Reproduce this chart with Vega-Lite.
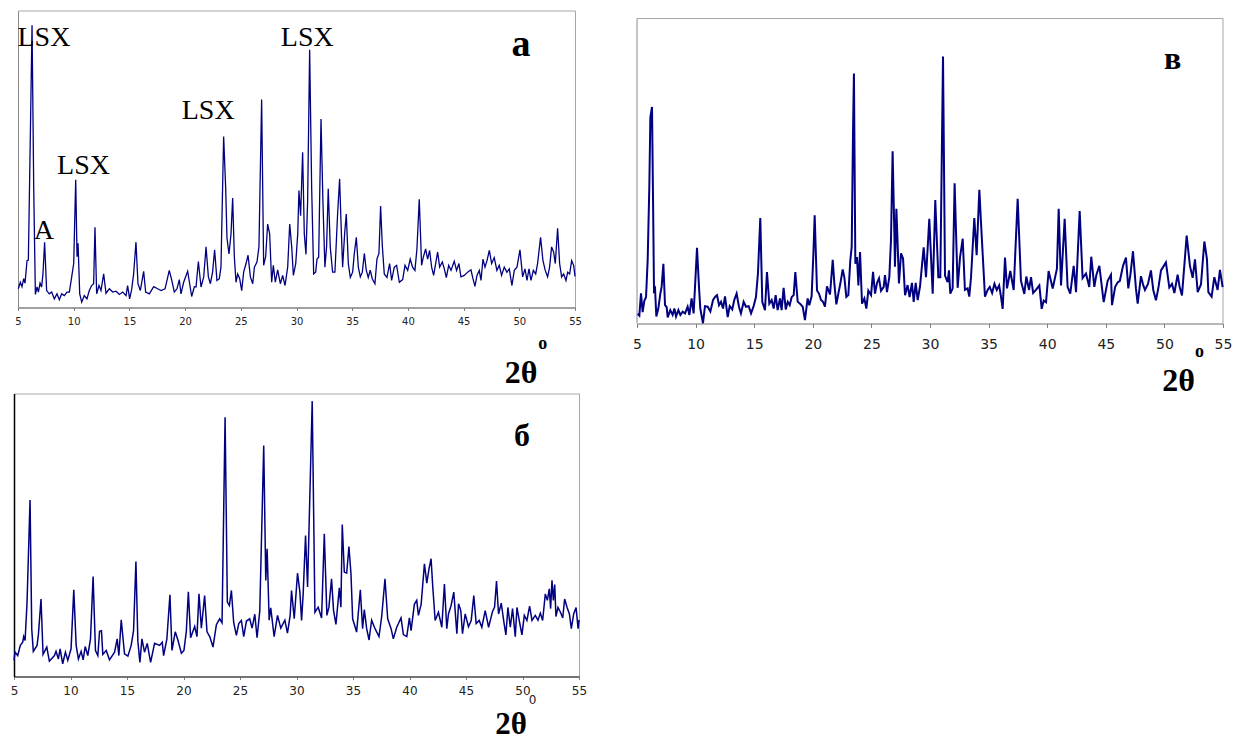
{
  "$schema": "https://vega.github.io/schema/vega-lite/v6.json",
  "padding": {"left": 9, "top": 9.5, "right": 5, "bottom": 0},
  "background": "white",
  "config": {"view": {"stroke": "#a6a6a6", "strokeWidth": 1}, "axis": {"grid": false}},
  "bounds": "flush",
  "columns": 2,
  "center": {"column": true, "row": false},
  "spacing": {"row": 70, "column": 58},
  "concat": [
    {
      "width": 557, "height": 297,
      "encoding": {
        "x": {"field": "two_theta", "type": "quantitative", "scale": {"domain": [5, 55], "nice": false, "zero": false},
          "axis": {"values": [5,10,15,20,25,30,35,40,45,50,55], "labelFont": "DejaVu Sans", "labelFontSize": 10, "labelColor": "#222222", "labelPadding": 6, "labelFlush": false, "labelOverlap": false, "tickSize": 3, "tickColor": "#808080", "domainColor": "#6e6e6e", "title": "2θ", "titleFont": "Liberation Serif", "titleFontSize": 32, "titleFontWeight": "bold", "titleColor": "#000000", "titleX": 502.5, "titleY": 74.7, "titleBaseline": "alphabetic", "titleAlign": "center"}},
        "y": {"field": "intensity", "type": "quantitative", "scale": {"domain": [0, 100], "nice": false, "zero": false},
          "axis": {"labels": false, "ticks": false, "title": null, "domainColor": "#8c8c8c"}}
      },
      "layer": [
        {
          "data": {"values": [
{"two_theta":5.03,"intensity":6.3},{"two_theta":5.21,"intensity":8.5},{"two_theta":5.36,"intensity":7},{"two_theta":5.51,"intensity":9.7},{"two_theta":5.63,"intensity":8.2},{"two_theta":5.81,"intensity":15.8},{"two_theta":5.93,"intensity":16},{"two_theta":6.11,"intensity":58.5},{"two_theta":6.26,"intensity":95},{"two_theta":6.41,"intensity":40.5},{"two_theta":6.56,"intensity":4.4},{"two_theta":6.71,"intensity":6.9},{"two_theta":6.83,"intensity":5.2},{"two_theta":6.98,"intensity":8.2},{"two_theta":7.12,"intensity":6.9},{"two_theta":7.24,"intensity":11.3},{"two_theta":7.39,"intensity":22},{"two_theta":7.57,"intensity":5.7},{"two_theta":7.81,"intensity":4.6},{"two_theta":8.02,"intensity":5.2},{"two_theta":8.26,"intensity":2.9},{"two_theta":8.5,"intensity":4.6},{"two_theta":8.71,"intensity":2.6},{"two_theta":8.92,"intensity":4.6},{"two_theta":9.16,"intensity":4},{"two_theta":9.4,"intensity":5.2},{"two_theta":9.61,"intensity":5.2},{"two_theta":9.82,"intensity":10.3},{"two_theta":10.0,"intensity":14.8},{"two_theta":10.18,"intensity":43},{"two_theta":10.3,"intensity":17.1},{"two_theta":10.39,"intensity":21.6},{"two_theta":10.54,"intensity":4.6},{"two_theta":10.72,"intensity":1.8},{"two_theta":10.95,"intensity":4},{"two_theta":11.19,"intensity":2.9},{"two_theta":11.4,"intensity":5.7},{"two_theta":11.61,"intensity":7.4},{"two_theta":11.79,"intensity":8},{"two_theta":11.91,"intensity":27},{"two_theta":12.06,"intensity":4.6},{"two_theta":12.27,"intensity":7.4},{"two_theta":12.45,"intensity":5.7},{"two_theta":12.69,"intensity":11.3},{"two_theta":12.9,"intensity":4.8},{"two_theta":13.2,"intensity":6.3},{"two_theta":13.5,"intensity":5.2},{"two_theta":13.8,"intensity":5.5},{"two_theta":14.1,"intensity":4.4},{"two_theta":14.4,"intensity":5.2},{"two_theta":14.7,"intensity":4},{"two_theta":14.84,"intensity":7.4},{"two_theta":15.02,"intensity":2.9},{"two_theta":15.2,"intensity":6},{"two_theta":15.38,"intensity":11.3},{"two_theta":15.59,"intensity":22},{"two_theta":15.77,"intensity":8},{"two_theta":15.98,"intensity":5.7},{"two_theta":16.28,"intensity":12.2},{"two_theta":16.46,"intensity":5.2},{"two_theta":16.79,"intensity":4.6},{"two_theta":17.18,"intensity":7},{"two_theta":17.54,"intensity":6.3},{"two_theta":17.84,"intensity":5.7},{"two_theta":18.2,"intensity":6.3},{"two_theta":18.58,"intensity":12.5},{"two_theta":18.79,"intensity":9.4},{"two_theta":19.03,"intensity":5.2},{"two_theta":19.27,"intensity":6.3},{"two_theta":19.48,"intensity":9.4},{"two_theta":19.63,"intensity":4.6},{"two_theta":19.87,"intensity":8.5},{"two_theta":20.23,"intensity":12.2},{"two_theta":20.41,"intensity":8},{"two_theta":20.59,"intensity":3.7},{"two_theta":20.83,"intensity":7},{"two_theta":20.98,"intensity":6.9},{"two_theta":21.19,"intensity":15.5},{"two_theta":21.43,"intensity":6.9},{"two_theta":21.67,"intensity":10.3},{"two_theta":21.88,"intensity":20.4},{"two_theta":22.09,"intensity":10.3},{"two_theta":22.27,"intensity":8},{"two_theta":22.47,"intensity":12},{"two_theta":22.65,"intensity":19.4},{"two_theta":22.86,"intensity":9.1},{"two_theta":23.07,"intensity":9.7},{"two_theta":23.22,"intensity":13.6},{"two_theta":23.46,"intensity":57.6},{"two_theta":23.64,"intensity":40.5},{"two_theta":23.76,"intensity":23.4},{"two_theta":23.94,"intensity":18},{"two_theta":24.12,"intensity":24.8},{"two_theta":24.27,"intensity":36.9},{"two_theta":24.42,"intensity":17.1},{"two_theta":24.57,"intensity":8.5},{"two_theta":24.72,"intensity":11.3},{"two_theta":24.9,"intensity":9.7},{"two_theta":25.08,"intensity":5.7},{"two_theta":25.26,"intensity":12},{"two_theta":25.47,"intensity":14.8},{"two_theta":25.65,"intensity":17.6},{"two_theta":25.86,"intensity":10.3},{"two_theta":26.07,"intensity":8},{"two_theta":26.22,"intensity":13.6},{"two_theta":26.45,"intensity":15.3},{"two_theta":26.63,"intensity":20.4},{"two_theta":26.87,"intensity":70},{"two_theta":27.05,"intensity":14.2},{"two_theta":27.23,"intensity":17.1},{"two_theta":27.41,"intensity":28.1},{"two_theta":27.59,"intensity":24.8},{"two_theta":27.77,"intensity":8.5},{"two_theta":27.92,"intensity":14.2},{"two_theta":28.1,"intensity":8.5},{"two_theta":28.31,"intensity":12.7},{"two_theta":28.55,"intensity":8},{"two_theta":28.76,"intensity":10.8},{"two_theta":28.97,"intensity":7.4},{"two_theta":29.21,"intensity":13.6},{"two_theta":29.39,"intensity":28.1},{"two_theta":29.57,"intensity":20.4},{"two_theta":29.72,"intensity":10.8},{"two_theta":29.93,"intensity":14.8},{"two_theta":30.11,"intensity":24.8},{"two_theta":30.22,"intensity":39.4},{"two_theta":30.37,"intensity":30.9},{"two_theta":30.55,"intensity":52.3},{"two_theta":30.7,"intensity":24.8},{"two_theta":30.85,"intensity":17.9},{"two_theta":31.0,"intensity":35.9},{"two_theta":31.18,"intensity":86.8},{"two_theta":31.36,"intensity":40.5},{"two_theta":31.54,"intensity":11.3},{"two_theta":31.72,"intensity":11.9},{"two_theta":31.84,"intensity":16.3},{"two_theta":31.99,"intensity":16.9},{"two_theta":32.2,"intensity":63.5},{"two_theta":32.37,"intensity":35.9},{"two_theta":32.55,"intensity":13.6},{"two_theta":32.7,"intensity":20.4},{"two_theta":32.85,"intensity":40},{"two_theta":33.03,"intensity":20.4},{"two_theta":33.24,"intensity":11.9},{"two_theta":33.45,"intensity":11.9},{"two_theta":33.69,"intensity":31.5},{"two_theta":33.87,"intensity":43.3},{"two_theta":33.99,"intensity":29.3},{"two_theta":34.14,"intensity":13.6},{"two_theta":34.32,"intensity":24.8},{"two_theta":34.47,"intensity":31.5},{"two_theta":34.65,"intensity":14.8},{"two_theta":34.83,"intensity":10.1},{"two_theta":35.04,"intensity":11.9},{"two_theta":35.19,"intensity":18.2},{"two_theta":35.37,"intensity":23.6},{"two_theta":35.55,"intensity":13.6},{"two_theta":35.73,"intensity":10.3},{"two_theta":35.91,"intensity":11.9},{"two_theta":36.09,"intensity":18.2},{"two_theta":36.26,"intensity":12.6},{"two_theta":36.44,"intensity":10.1},{"two_theta":36.62,"intensity":12.6},{"two_theta":36.8,"intensity":9.7},{"two_theta":37.04,"intensity":8},{"two_theta":37.22,"intensity":16.3},{"two_theta":37.4,"intensity":18.2},{"two_theta":37.55,"intensity":34.2},{"two_theta":37.7,"intensity":21},{"two_theta":37.88,"intensity":11.3},{"two_theta":38.12,"intensity":10.1},{"two_theta":38.36,"intensity":14.8},{"two_theta":38.54,"intensity":9.1},{"two_theta":38.78,"intensity":13.6},{"two_theta":38.99,"intensity":14.2},{"two_theta":39.23,"intensity":8.5},{"two_theta":39.53,"intensity":9.4},{"two_theta":39.74,"intensity":14.2},{"two_theta":39.98,"intensity":12.5},{"two_theta":40.21,"intensity":16.3},{"two_theta":40.42,"intensity":13.6},{"two_theta":40.63,"intensity":12.5},{"two_theta":40.81,"intensity":19.7},{"two_theta":41.02,"intensity":36.4},{"two_theta":41.23,"intensity":14.2},{"two_theta":41.38,"intensity":16.9},{"two_theta":41.59,"intensity":19.7},{"two_theta":41.77,"intensity":16.3},{"two_theta":41.95,"intensity":19.2},{"two_theta":42.13,"intensity":13.6},{"two_theta":42.31,"intensity":10.8},{"two_theta":42.49,"intensity":14.8},{"two_theta":42.67,"intensity":18.7},{"two_theta":42.85,"intensity":13.6},{"two_theta":43.09,"intensity":15.3},{"two_theta":43.27,"intensity":13},{"two_theta":43.45,"intensity":10.1},{"two_theta":43.66,"intensity":14.2},{"two_theta":43.87,"intensity":12.5},{"two_theta":44.16,"intensity":15.6},{"two_theta":44.37,"intensity":12.5},{"two_theta":44.58,"intensity":14.8},{"two_theta":44.76,"intensity":10.3},{"two_theta":45.06,"intensity":10.8},{"two_theta":45.36,"intensity":11.9},{"two_theta":45.66,"intensity":12.7},{"two_theta":45.84,"intensity":9.7},{"two_theta":46.02,"intensity":7.1},{"two_theta":46.2,"intensity":10.8},{"two_theta":46.41,"intensity":12.5},{"two_theta":46.56,"intensity":9.1},{"two_theta":46.74,"intensity":16.3},{"two_theta":46.92,"intensity":13.6},{"two_theta":47.1,"intensity":15.8},{"two_theta":47.31,"intensity":19.2},{"two_theta":47.52,"intensity":14.8},{"two_theta":47.75,"intensity":16.8},{"two_theta":47.99,"intensity":12.5},{"two_theta":48.2,"intensity":14.2},{"two_theta":48.41,"intensity":10.8},{"two_theta":48.65,"intensity":13.6},{"two_theta":48.89,"intensity":11.9},{"two_theta":49.1,"intensity":13},{"two_theta":49.34,"intensity":7.4},{"two_theta":49.55,"intensity":12.5},{"two_theta":49.79,"intensity":13.6},{"two_theta":50.06,"intensity":19.4},{"two_theta":50.3,"intensity":10.3},{"two_theta":50.51,"intensity":13},{"two_theta":50.69,"intensity":9.1},{"two_theta":50.87,"intensity":13},{"two_theta":51.05,"intensity":9.1},{"two_theta":51.26,"intensity":12.5},{"two_theta":51.47,"intensity":11.3},{"two_theta":51.64,"intensity":14.8},{"two_theta":51.91,"intensity":23.6},{"two_theta":52.12,"intensity":15.9},{"two_theta":52.33,"intensity":12.5},{"two_theta":52.54,"intensity":10.3},{"two_theta":52.72,"intensity":13.6},{"two_theta":52.9,"intensity":20.4},{"two_theta":53.08,"intensity":18.7},{"two_theta":53.23,"intensity":14.8},{"two_theta":53.44,"intensity":26.7},{"two_theta":53.62,"intensity":14.8},{"two_theta":53.8,"intensity":10.3},{"two_theta":53.98,"intensity":11.3},{"two_theta":54.19,"intensity":9.1},{"two_theta":54.34,"intensity":11.9},{"two_theta":54.52,"intensity":11.3},{"two_theta":54.7,"intensity":15.8},{"two_theta":54.88,"intensity":14.2},{"two_theta":55.0,"intensity":10.5}
          ]},
          "mark": {"type": "line", "color": "#000080", "strokeWidth": 1.3}
        },
        {
          "data": {"values": [
            {"two_theta": 7.33, "intensity": 88.2, "label": "LSX"},
            {"two_theta": 10.88, "intensity": 45.0, "label": "LSX"},
            {"two_theta": 22.07, "intensity": 63.5, "label": "LSX"},
            {"two_theta": 30.97, "intensity": 88.2, "label": "LSX"},
            {"two_theta": 7.33, "intensity": 23.1, "label": "A"}
          ]},
          "mark": {"type": "text", "font": "Liberation Serif", "fontSize": 28, "baseline": "alphabetic", "align": "center", "color": "#000000"},
          "encoding": {"text": {"field": "label"}}
        },
        {
          "data": {"values": [{"two_theta": 50.15, "intensity": 84.8, "label": "a"}]},
          "mark": {"type": "text", "font": "Liberation Serif", "fontSize": 38, "fontWeight": "bold", "baseline": "alphabetic", "align": "center", "color": "#000000"},
          "encoding": {"text": {"field": "label"}}
        },
        {
          "data": {"values": [{"two_theta": 52.1, "intensity": -13.9, "label": "o"}]},
          "mark": {"type": "text", "font": "Liberation Serif", "fontSize": 18, "fontWeight": "bold", "baseline": "alphabetic", "align": "center", "color": "#000000"},
          "encoding": {"text": {"field": "label"}}
        }
      ]
    },
    {
      "width": 586, "height": 313,
      "view": {"stroke": null},
      "encoding": {
        "x": {"field": "two_theta", "type": "quantitative", "scale": {"domain": [5, 55], "nice": false, "zero": false},
          "axis": {"values": [5,10,15,20,25,30,35,40,45,50,55], "labelFont": "DejaVu Sans", "labelFontSize": 14, "labelColor": "#222222", "labelPadding": 10, "labelFlush": false, "labelOverlap": false, "tickSize": 4, "tickColor": "#808080", "domainColor": "#6e6e6e", "title": "2θ", "titleFont": "Liberation Serif", "titleFontSize": 32, "titleFontWeight": "bold", "titleColor": "#000000", "titleX": 541, "titleY": 67, "titleBaseline": "alphabetic", "titleAlign": "center"}},
        "y": {"field": "intensity", "type": "quantitative", "scale": {"domain": [0, 102.623], "nice": false, "zero": false}, "axis": null}
      },
      "layer": [
        {
          "data": {"values": [
            {"two_theta": 5, "two_theta_end": 55, "intensity": 100, "intensity_end": 100},
            {"two_theta": 55, "two_theta_end": 55, "intensity": 0, "intensity_end": 100}
          ]},
          "mark": {"type": "rule", "color": "#a6a6a6", "strokeWidth": 1},
          "encoding": {"x2": {"field": "two_theta_end"}, "y2": {"field": "intensity_end"}}
        },
        {
          "data": {"values": [
            {"two_theta": 5, "two_theta_end": 5, "intensity": 0, "intensity_end": 100}
          ]},
          "mark": {"type": "rule", "color": "#8c8c8c", "strokeWidth": 1},
          "encoding": {"x2": {"field": "two_theta_end"}, "y2": {"field": "intensity_end"}}
        },
        {
          "data": {"values": [
{"two_theta":5.06,"intensity":3.2},{"two_theta":5.2,"intensity":2.6},{"two_theta":5.34,"intensity":9.9},{"two_theta":5.48,"intensity":3.7},{"two_theta":5.63,"intensity":7.5},{"two_theta":5.77,"intensity":8.6},{"two_theta":5.91,"intensity":20.7},{"two_theta":6.05,"intensity":44.7},{"two_theta":6.14,"intensity":67.6},{"two_theta":6.28,"intensity":71},{"two_theta":6.37,"intensity":40.3},{"two_theta":6.45,"intensity":10.8},{"two_theta":6.54,"intensity":11.4},{"two_theta":6.65,"intensity":2.3},{"two_theta":6.82,"intensity":4.9},{"two_theta":6.99,"intensity":9.8},{"two_theta":7.1,"intensity":12},{"two_theta":7.25,"intensity":19.6},{"two_theta":7.39,"intensity":6},{"two_theta":7.53,"intensity":5.4},{"two_theta":7.62,"intensity":2},{"two_theta":7.84,"intensity":4.4},{"two_theta":8.04,"intensity":2.8},{"two_theta":8.19,"intensity":4.9},{"two_theta":8.33,"intensity":2.3},{"two_theta":8.53,"intensity":4.4},{"two_theta":8.7,"intensity":2.8},{"two_theta":8.9,"intensity":3.9},{"two_theta":9.1,"intensity":3.3},{"two_theta":9.32,"intensity":5.5},{"two_theta":9.47,"intensity":2.8},{"two_theta":9.66,"intensity":8.2},{"two_theta":9.83,"intensity":3.3},{"two_theta":9.95,"intensity":12},{"two_theta":10.12,"intensity":24.8},{"two_theta":10.29,"intensity":12},{"two_theta":10.4,"intensity":4.9},{"two_theta":10.63,"intensity":0.1},{"two_theta":10.8,"intensity":5.7},{"two_theta":11.03,"intensity":5.5},{"two_theta":11.26,"intensity":3.9},{"two_theta":11.49,"intensity":7.7},{"two_theta":11.66,"intensity":8.7},{"two_theta":11.83,"intensity":9.3},{"two_theta":12.0,"intensity":6},{"two_theta":12.17,"intensity":7.1},{"two_theta":12.34,"intensity":4.9},{"two_theta":12.51,"intensity":8.9},{"two_theta":12.74,"intensity":2.1},{"two_theta":12.91,"intensity":5.7},{"two_theta":13.13,"intensity":4.6},{"two_theta":13.3,"intensity":7.7},{"two_theta":13.5,"intensity":9.8},{"two_theta":13.7,"intensity":5.5},{"two_theta":13.87,"intensity":3.3},{"two_theta":14.1,"intensity":7.1},{"two_theta":14.3,"intensity":5.5},{"two_theta":14.53,"intensity":5.7},{"two_theta":14.73,"intensity":3.3},{"two_theta":14.95,"intensity":5.7},{"two_theta":15.15,"intensity":8.7},{"two_theta":15.32,"intensity":16.4},{"two_theta":15.52,"intensity":34.6},{"two_theta":15.69,"intensity":7.1},{"two_theta":15.92,"intensity":4.4},{"two_theta":16.09,"intensity":16.9},{"two_theta":16.29,"intensity":6.5},{"two_theta":16.49,"intensity":7.7},{"two_theta":16.66,"intensity":4.9},{"two_theta":16.83,"intensity":9.3},{"two_theta":17.0,"intensity":4.4},{"two_theta":17.2,"intensity":8.2},{"two_theta":17.34,"intensity":4.4},{"two_theta":17.51,"intensity":11.7},{"two_theta":17.69,"intensity":4.6},{"two_theta":17.86,"intensity":7.1},{"two_theta":18.03,"intensity":6},{"two_theta":18.2,"intensity":8.7},{"two_theta":18.37,"intensity":9.3},{"two_theta":18.51,"intensity":16.9},{"two_theta":18.71,"intensity":7.1},{"two_theta":18.91,"intensity":6.5},{"two_theta":19.14,"intensity":5.5},{"two_theta":19.33,"intensity":1.1},{"two_theta":19.56,"intensity":8.2},{"two_theta":19.7,"intensity":6},{"two_theta":19.9,"intensity":8.9},{"two_theta":20.05,"intensity":22.9},{"two_theta":20.16,"intensity":35.5},{"two_theta":20.36,"intensity":10.8},{"two_theta":20.53,"intensity":9.8},{"two_theta":20.7,"intensity":7.7},{"two_theta":20.87,"intensity":7.1},{"two_theta":21.04,"intensity":5.5},{"two_theta":21.21,"intensity":12.2},{"two_theta":21.47,"intensity":9.5},{"two_theta":21.7,"intensity":20.9},{"two_theta":21.84,"intensity":13.1},{"two_theta":22.01,"intensity":6.3},{"two_theta":22.18,"intensity":9.8},{"two_theta":22.35,"intensity":13.1},{"two_theta":22.55,"intensity":17.7},{"two_theta":22.69,"intensity":15.2},{"two_theta":22.86,"intensity":8.7},{"two_theta":23.03,"intensity":9.3},{"two_theta":23.2,"intensity":20.7},{"two_theta":23.32,"intensity":25.1},{"two_theta":23.43,"intensity":62.3},{"two_theta":23.51,"intensity":82},{"two_theta":23.63,"intensity":19.6},{"two_theta":23.77,"intensity":21.8},{"two_theta":23.89,"intensity":12.5},{"two_theta":24.03,"intensity":23.4},{"two_theta":24.2,"intensity":6.5},{"two_theta":24.4,"intensity":8.2},{"two_theta":24.57,"intensity":4.9},{"two_theta":24.74,"intensity":10.8},{"two_theta":24.97,"intensity":9.3},{"two_theta":25.14,"intensity":16.9},{"two_theta":25.31,"intensity":9.8},{"two_theta":25.48,"intensity":13.3},{"two_theta":25.65,"intensity":14.8},{"two_theta":25.82,"intensity":10.7},{"two_theta":26.05,"intensity":12},{"two_theta":26.16,"intensity":15.9},{"two_theta":26.33,"intensity":10.3},{"two_theta":26.53,"intensity":15.3},{"two_theta":26.67,"intensity":27.3},{"two_theta":26.81,"intensity":56.5},{"two_theta":26.96,"intensity":29.4},{"two_theta":27.01,"intensity":18.6},{"two_theta":27.13,"intensity":37.6},{"two_theta":27.21,"intensity":29.4},{"two_theta":27.35,"intensity":13.1},{"two_theta":27.53,"intensity":23},{"two_theta":27.7,"intensity":21.3},{"two_theta":27.87,"intensity":9.3},{"two_theta":28.09,"intensity":12.6},{"two_theta":28.26,"intensity":8.7},{"two_theta":28.46,"intensity":13.3},{"two_theta":28.61,"intensity":7.1},{"two_theta":28.78,"intensity":13.3},{"two_theta":28.95,"intensity":7.7},{"two_theta":29.15,"intensity":12.2},{"two_theta":29.46,"intensity":25},{"two_theta":29.66,"intensity":15.2},{"two_theta":29.94,"intensity":34.3},{"two_theta":30.23,"intensity":9.8},{"two_theta":30.45,"intensity":40.5},{"two_theta":30.71,"intensity":15.2},{"two_theta":30.88,"intensity":15.2},{"two_theta":31.11,"intensity":87.5},{"two_theta":31.28,"intensity":15.7},{"two_theta":31.5,"intensity":13.6},{"two_theta":31.62,"intensity":17.4},{"two_theta":31.73,"intensity":9.8},{"two_theta":31.93,"intensity":11.5},{"two_theta":32.1,"intensity":46},{"two_theta":32.36,"intensity":11.7},{"two_theta":32.56,"intensity":21.6},{"two_theta":32.79,"intensity":27.8},{"two_theta":32.98,"intensity":11},{"two_theta":33.21,"intensity":11.5},{"two_theta":33.35,"intensity":8.8},{"two_theta":33.5,"intensity":15.2},{"two_theta":33.78,"intensity":34.6},{"two_theta":33.98,"intensity":22.4},{"two_theta":34.21,"intensity":43.8},{"two_theta":34.35,"intensity":33.2},{"two_theta":34.69,"intensity":8.8},{"two_theta":34.92,"intensity":11},{"two_theta":35.1,"intensity":12},{"two_theta":35.3,"intensity":10},{"two_theta":35.5,"intensity":13},{"two_theta":35.7,"intensity":11},{"two_theta":35.9,"intensity":12.5},{"two_theta":36.05,"intensity":9},{"two_theta":36.2,"intensity":4.8},{"two_theta":36.4,"intensity":21.6},{"two_theta":36.57,"intensity":11.5},{"two_theta":36.85,"intensity":17.2},{"two_theta":37.14,"intensity":11},{"two_theta":37.48,"intensity":40.9},{"two_theta":37.76,"intensity":14},{"two_theta":38.05,"intensity":9.7},{"two_theta":38.22,"intensity":15.4},{"two_theta":38.45,"intensity":11},{"two_theta":38.62,"intensity":15.2},{"two_theta":38.8,"intensity":10},{"two_theta":39.04,"intensity":11},{"two_theta":39.33,"intensity":12.5},{"two_theta":39.53,"intensity":4.8},{"two_theta":39.7,"intensity":7.5},{"two_theta":39.9,"intensity":7},{"two_theta":40.12,"intensity":17.2},{"two_theta":40.47,"intensity":11.5},{"two_theta":40.83,"intensity":18},{"two_theta":40.98,"intensity":37.6},{"two_theta":41.18,"intensity":12.5},{"two_theta":41.49,"intensity":34.3},{"two_theta":41.74,"intensity":12},{"two_theta":41.97,"intensity":9.8},{"two_theta":42.26,"intensity":18.9},{"two_theta":42.46,"intensity":10.3},{"two_theta":42.77,"intensity":36.9},{"two_theta":43.02,"intensity":14.9},{"two_theta":43.31,"intensity":16.4},{"two_theta":43.59,"intensity":12},{"two_theta":43.76,"intensity":21.9},{"two_theta":44.02,"intensity":12},{"two_theta":44.2,"intensity":16},{"two_theta":44.45,"intensity":18.9},{"two_theta":44.82,"intensity":7},{"two_theta":45.16,"intensity":14},{"two_theta":45.44,"intensity":16},{"two_theta":45.53,"intensity":6},{"two_theta":45.8,"intensity":12},{"two_theta":46.01,"intensity":13.5},{"two_theta":46.2,"intensity":14},{"two_theta":46.47,"intensity":18.9},{"two_theta":46.72,"intensity":21.6},{"two_theta":46.92,"intensity":11.5},{"two_theta":47.1,"intensity":16},{"two_theta":47.32,"intensity":23.7},{"two_theta":47.57,"intensity":11.5},{"two_theta":47.72,"intensity":6.5},{"two_theta":48.0,"intensity":15.5},{"two_theta":48.2,"intensity":12.5},{"two_theta":48.34,"intensity":11},{"two_theta":48.6,"intensity":13},{"two_theta":48.85,"intensity":17.4},{"two_theta":49.05,"intensity":11},{"two_theta":49.28,"intensity":7.6},{"two_theta":49.5,"intensity":12},{"two_theta":49.71,"intensity":17.4},{"two_theta":50.13,"intensity":20},{"two_theta":50.42,"intensity":11.8},{"two_theta":50.65,"intensity":13},{"two_theta":50.85,"intensity":10},{"two_theta":51.13,"intensity":16},{"two_theta":51.3,"intensity":12},{"two_theta":51.5,"intensity":9.2},{"two_theta":51.9,"intensity":28.8},{"two_theta":52.18,"intensity":18.9},{"two_theta":52.41,"intensity":15},{"two_theta":52.61,"intensity":21},{"two_theta":52.84,"intensity":10.3},{"two_theta":53.12,"intensity":12.8},{"two_theta":53.41,"intensity":26.9},{"two_theta":53.63,"intensity":21.1},{"two_theta":53.75,"intensity":10.3},{"two_theta":54.03,"intensity":8.8},{"two_theta":54.26,"intensity":15.2},{"two_theta":54.54,"intensity":11},{"two_theta":54.74,"intensity":17.6},{"two_theta":54.97,"intensity":11.9}
          ]},
          "mark": {"type": "line", "color": "#000080", "strokeWidth": 2}
        },
        {
          "data": {"values": [{"two_theta": 50.71, "intensity": 83.5, "label": "в"}]},
          "mark": {"type": "text", "font": "Liberation Serif", "fontSize": 32, "fontWeight": "bold", "baseline": "alphabetic", "align": "center", "color": "#000000"},
          "encoding": {"text": {"field": "label"}}
        },
        {
          "data": {"values": [{"two_theta": 53.0, "intensity": -11.0, "label": "o"}]},
          "mark": {"type": "text", "font": "Liberation Serif", "fontSize": 18, "fontWeight": "bold", "baseline": "alphabetic", "align": "center", "color": "#000000"},
          "encoding": {"text": {"field": "label"}}
        }
      ]
    },
    {
      "width": 565, "height": 283,
      "encoding": {
        "x": {"field": "two_theta", "type": "quantitative", "scale": {"domain": [5, 55], "nice": false, "zero": false},
          "axis": {"values": [5,10,15,20,25,30,35,40,45,50,55], "labelFont": "DejaVu Sans", "labelFontSize": 12, "labelColor": "#222222", "labelPadding": 6, "labelFlush": false, "labelOverlap": false, "tickSize": 3, "tickColor": "#808080", "domainColor": "#555555", "domainWidth": 1.5, "title": "2θ", "titleFont": "Liberation Serif", "titleFontSize": 31, "titleFontWeight": "bold", "titleColor": "#000000", "titleX": 496.5, "titleY": 57, "titleBaseline": "alphabetic", "titleAlign": "center"}},
        "y": {"field": "intensity", "type": "quantitative", "scale": {"domain": [0, 100], "nice": false, "zero": false},
          "axis": {"labels": false, "ticks": false, "title": null, "domainColor": "#000000", "domainWidth": 1.5}}
      },
      "layer": [
        {
          "data": {"values": [
{"two_theta":5.0,"intensity":5.7},{"two_theta":5.09,"intensity":8.6},{"two_theta":5.33,"intensity":7.4},{"two_theta":5.56,"intensity":11},{"two_theta":5.77,"intensity":12.1},{"two_theta":5.86,"intensity":14.1},{"two_theta":5.98,"intensity":12.7},{"two_theta":6.15,"intensity":25.7},{"two_theta":6.42,"intensity":62.4},{"two_theta":6.57,"intensity":16.8},{"two_theta":6.71,"intensity":8.9},{"two_theta":7.04,"intensity":11},{"two_theta":7.16,"intensity":14.8},{"two_theta":7.39,"intensity":27.4},{"two_theta":7.57,"intensity":7.8},{"two_theta":7.9,"intensity":10.4},{"two_theta":8.13,"intensity":5.4},{"two_theta":8.58,"intensity":7.4},{"two_theta":8.72,"intensity":8.9},{"two_theta":8.93,"intensity":6.2},{"two_theta":9.08,"intensity":9.8},{"two_theta":9.31,"intensity":4.5},{"two_theta":9.55,"intensity":8.6},{"two_theta":9.76,"intensity":5.7},{"two_theta":10.05,"intensity":9.8},{"two_theta":10.29,"intensity":30.6},{"two_theta":10.5,"intensity":11},{"two_theta":10.7,"intensity":6.2},{"two_theta":10.94,"intensity":8.9},{"two_theta":11.12,"intensity":5.9},{"two_theta":11.3,"intensity":10.6},{"two_theta":11.53,"intensity":7.4},{"two_theta":11.77,"intensity":13.3},{"two_theta":12.0,"intensity":35.3},{"two_theta":12.21,"intensity":9.2},{"two_theta":12.42,"intensity":7.4},{"two_theta":12.57,"intensity":16},{"two_theta":12.74,"intensity":16.2},{"two_theta":12.86,"intensity":7.8},{"two_theta":13.16,"intensity":9.2},{"two_theta":13.45,"intensity":5.9},{"two_theta":13.9,"intensity":8.6},{"two_theta":14.13,"intensity":13.3},{"two_theta":14.28,"intensity":7.4},{"two_theta":14.49,"intensity":20},{"two_theta":14.78,"intensity":8},{"two_theta":15.08,"intensity":7.2},{"two_theta":15.37,"intensity":11},{"two_theta":15.58,"intensity":16.2},{"two_theta":15.79,"intensity":40.6},{"two_theta":15.96,"intensity":12.5},{"two_theta":16.14,"intensity":5},{"two_theta":16.32,"intensity":13.3},{"two_theta":16.55,"intensity":8.6},{"two_theta":16.79,"intensity":11.7},{"two_theta":17.09,"intensity":5},{"two_theta":17.44,"intensity":11.7},{"two_theta":17.88,"intensity":11},{"two_theta":18.12,"intensity":12.1},{"two_theta":18.24,"intensity":7.4},{"two_theta":18.53,"intensity":13.3},{"two_theta":18.8,"intensity":28.9},{"two_theta":18.98,"intensity":9.2},{"two_theta":19.27,"intensity":15.8},{"two_theta":19.51,"intensity":12.8},{"two_theta":19.81,"intensity":8.2},{"two_theta":20.04,"intensity":9.2},{"two_theta":20.25,"intensity":16},{"two_theta":20.43,"intensity":29.9},{"two_theta":20.63,"intensity":13.7},{"two_theta":20.99,"intensity":17.7},{"two_theta":21.19,"intensity":14.1},{"two_theta":21.37,"intensity":29.2},{"two_theta":21.58,"intensity":17.1},{"two_theta":21.87,"intensity":28.6},{"two_theta":22.08,"intensity":15.8},{"two_theta":22.32,"intensity":14.1},{"two_theta":22.61,"intensity":10.4},{"two_theta":22.91,"intensity":18.3},{"two_theta":23.2,"intensity":20.4},{"two_theta":23.41,"intensity":19},{"two_theta":23.68,"intensity":91.6},{"two_theta":23.88,"intensity":26.3},{"two_theta":24.06,"intensity":25.1},{"two_theta":24.24,"intensity":30.4},{"two_theta":24.44,"intensity":19.1},{"two_theta":24.68,"intensity":14.5},{"two_theta":24.89,"intensity":18.7},{"two_theta":25.12,"intensity":19.8},{"two_theta":25.33,"intensity":14.1},{"two_theta":25.57,"intensity":19.6},{"two_theta":25.86,"intensity":20.4},{"two_theta":26.07,"intensity":17.1},{"two_theta":26.31,"intensity":22},{"two_theta":26.51,"intensity":13.7},{"two_theta":26.75,"intensity":23.2},{"two_theta":27.1,"intensity":81.6},{"two_theta":27.28,"intensity":33.9},{"two_theta":27.4,"intensity":45.1},{"two_theta":27.58,"intensity":19.9},{"two_theta":27.72,"intensity":24.3},{"two_theta":28.02,"intensity":14.1},{"two_theta":28.32,"intensity":21.6},{"two_theta":28.61,"intensity":17.1},{"two_theta":28.97,"intensity":19.9},{"two_theta":29.2,"intensity":15.3},{"two_theta":29.44,"intensity":21.6},{"two_theta":29.56,"intensity":30.4},{"two_theta":29.8,"intensity":20.4},{"two_theta":30.09,"intensity":36.5},{"two_theta":30.3,"intensity":29.8},{"two_theta":30.45,"intensity":19.8},{"two_theta":30.59,"intensity":29.2},{"two_theta":30.8,"intensity":49.8},{"two_theta":30.98,"intensity":31.6},{"two_theta":31.39,"intensity":97.3},{"two_theta":31.63,"intensity":22.7},{"two_theta":31.92,"intensity":24.5},{"two_theta":32.22,"intensity":20.7},{"two_theta":32.46,"intensity":50.4},{"two_theta":32.69,"intensity":21.6},{"two_theta":32.87,"intensity":24.5},{"two_theta":33.1,"intensity":34.5},{"two_theta":33.28,"intensity":23.3},{"two_theta":33.49,"intensity":18.4},{"two_theta":33.79,"intensity":31.3},{"two_theta":33.93,"intensity":24.5},{"two_theta":34.05,"intensity":53.7},{"two_theta":34.23,"intensity":36.9},{"two_theta":34.44,"intensity":36.5},{"two_theta":34.64,"intensity":45.9},{"two_theta":34.82,"intensity":36.3},{"two_theta":34.97,"intensity":20.4},{"two_theta":35.32,"intensity":15.7},{"two_theta":35.65,"intensity":30.6},{"two_theta":35.85,"intensity":16.9},{"two_theta":36.0,"intensity":23.6},{"two_theta":36.21,"intensity":16.9},{"two_theta":36.42,"intensity":12.9},{"two_theta":36.65,"intensity":19.9},{"two_theta":36.95,"intensity":16.9},{"two_theta":37.3,"intensity":14.1},{"two_theta":37.54,"intensity":21.2},{"two_theta":37.83,"intensity":34.5},{"two_theta":38.07,"intensity":20.4},{"two_theta":38.37,"intensity":16.9},{"two_theta":38.57,"intensity":13.3},{"two_theta":38.87,"intensity":17.4},{"two_theta":39.25,"intensity":20.7},{"two_theta":39.46,"intensity":14.8},{"two_theta":39.76,"intensity":14.1},{"two_theta":39.99,"intensity":20.7},{"two_theta":40.14,"intensity":16.2},{"two_theta":40.43,"intensity":25.5},{"two_theta":40.64,"intensity":26.9},{"two_theta":40.79,"intensity":21.6},{"two_theta":41.03,"intensity":25.5},{"two_theta":41.32,"intensity":39.8},{"two_theta":41.53,"intensity":33},{"two_theta":41.73,"intensity":38.1},{"two_theta":41.91,"intensity":41.6},{"two_theta":42.06,"intensity":31.6},{"two_theta":42.27,"intensity":19.8},{"two_theta":42.56,"intensity":22.7},{"two_theta":42.86,"intensity":17.4},{"two_theta":43.09,"intensity":32.7},{"two_theta":43.3,"intensity":16.9},{"two_theta":43.45,"intensity":22.1},{"two_theta":43.68,"intensity":25.1},{"two_theta":43.92,"intensity":29.8},{"two_theta":44.19,"intensity":15.1},{"two_theta":44.34,"intensity":25.7},{"two_theta":44.54,"intensity":23.3},{"two_theta":44.69,"intensity":15.1},{"two_theta":44.93,"intensity":22.1},{"two_theta":45.22,"intensity":17.6},{"two_theta":45.46,"intensity":19.8},{"two_theta":45.69,"intensity":28.6},{"two_theta":45.9,"intensity":18.7},{"two_theta":46.17,"intensity":19.8},{"two_theta":46.4,"intensity":17.4},{"two_theta":46.7,"intensity":23.3},{"two_theta":47.0,"intensity":17.4},{"two_theta":47.35,"intensity":23},{"two_theta":47.53,"intensity":24.5},{"two_theta":47.7,"intensity":33.7},{"two_theta":47.88,"intensity":22.1},{"two_theta":48.12,"intensity":25.9},{"two_theta":48.35,"intensity":19.3},{"two_theta":48.53,"intensity":14.7},{"two_theta":48.71,"intensity":24.4},{"two_theta":48.92,"intensity":17.4},{"two_theta":49.12,"intensity":24},{"two_theta":49.36,"intensity":14.1},{"two_theta":49.51,"intensity":24.4},{"two_theta":49.71,"intensity":19.8},{"two_theta":49.95,"intensity":14.7},{"two_theta":50.16,"intensity":21.6},{"two_theta":50.39,"intensity":19.8},{"two_theta":50.63,"intensity":24.9},{"two_theta":50.84,"intensity":19.8},{"two_theta":51.13,"intensity":21.6},{"two_theta":51.37,"intensity":19.9},{"two_theta":51.58,"intensity":22.4},{"two_theta":51.78,"intensity":19.8},{"two_theta":52.02,"intensity":29.2},{"two_theta":52.2,"intensity":26.9},{"two_theta":52.37,"intensity":31},{"two_theta":52.49,"intensity":24},{"two_theta":52.61,"intensity":34},{"two_theta":52.73,"intensity":26.9},{"two_theta":52.85,"intensity":32.5},{"two_theta":52.96,"intensity":21.2},{"two_theta":53.14,"intensity":24.4},{"two_theta":53.35,"intensity":22.8},{"two_theta":53.56,"intensity":20.7},{"two_theta":53.73,"intensity":27.4},{"two_theta":53.94,"intensity":24.5},{"two_theta":54.15,"intensity":22.1},{"two_theta":54.32,"intensity":16.9},{"two_theta":54.53,"intensity":22.1},{"two_theta":54.74,"intensity":24.4},{"two_theta":54.92,"intensity":16.9},{"two_theta":55.0,"intensity":20}
          ]},
          "mark": {"type": "line", "color": "#000080", "strokeWidth": 1.5}
        },
        {
          "data": {"values": [{"two_theta": 49.95, "intensity": 81.6, "label": "б"}]},
          "mark": {"type": "text", "font": "Liberation Serif", "fontSize": 32, "fontWeight": "bold", "baseline": "alphabetic", "align": "center", "color": "#000000"},
          "encoding": {"text": {"field": "label"}}
        },
        {
          "data": {"values": [{"two_theta": 50.88, "intensity": -9.6, "label": "0"}]},
          "mark": {"type": "text", "font": "DejaVu Sans", "fontSize": 12, "baseline": "alphabetic", "align": "center", "color": "#222222"},
          "encoding": {"text": {"field": "label"}}
        }
      ]
    }
  ]
}
